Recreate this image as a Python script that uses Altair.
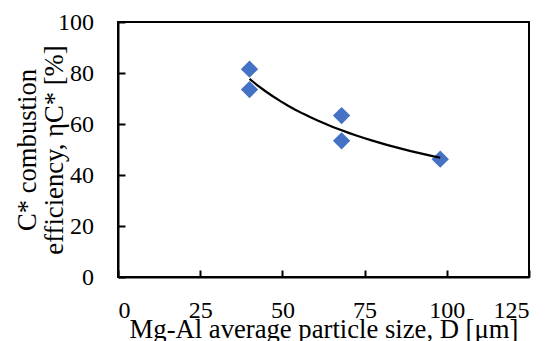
import altair as alt
import pandas as pd

# Data
particle_size = [40, 40, 68, 68, 98]          # D [μm]
efficiency = [81.5, 73.5, 63.3, 53.4, 46.2]   # eta_C* [%]

x_ticks = [0, 25, 50, 75, 100, 125]
y_ticks = [0, 20, 40, 60, 80, 100]

df = pd.DataFrame({"D": particle_size, "eta": efficiency})

FONT = "Liberation Serif"
LABEL_FS = 24
TITLE_FS = 26.67
W, H = 411, 255
TICK = 7

x_enc = alt.X(
    "D:Q",
    scale=alt.Scale(domain=[0, 125], nice=False, zero=False),
    axis=alt.Axis(
        values=x_ticks,
        title="Mg-Al average particle size, D [μm]",
        labelPadding=21, titlePadding=-6,
        grid=True,
        gridDash=[TICK, H - TICK], gridDashOffset=TICK,
    ),
)
y_enc = alt.Y(
    "eta:Q",
    scale=alt.Scale(domain=[0, 100], nice=False, zero=False),
    axis=alt.Axis(
        values=y_ticks,
        title=["C* combustion", "efficiency, ηC* [%]"],
        labelPadding=24.5, titlePadding=-11,
        titleLineHeight=27,
        grid=True,
        gridDash=[TICK, 2000],
    ),
)

points = alt.Chart(df).mark_point(
    shape="diamond", filled=True, size=300, color="#4472C4", opacity=1
).encode(x=x_enc, y=y_enc)

trend = alt.Chart(df).transform_regression(
    "D", "eta", method="pow"
).mark_line(color="black", strokeWidth=2.2).encode(x="D:Q", y="eta:Q")

chart = alt.layer(points, trend).properties(
    width=W,
    height=H,
    autosize=alt.AutoSizeParams(type="none"),
    padding={"left": 110, "top": 14, "right": 18, "bottom": 64},
).configure(
    background="white", font=FONT
).configure_axis(
    labelFont=FONT, titleFont=FONT,
    labelFontSize=LABEL_FS, titleFontSize=TITLE_FS,
    labelColor="black", titleColor="black",
    titleFontWeight="normal",
    domainColor="black", domainWidth=2,
    ticks=False,
    gridColor="black", gridWidth=2, gridOpacity=1,
).configure_view(stroke="black", strokeWidth=2)

chart.save("out.html", embed_options={"renderer": "svg", "actions": False})
